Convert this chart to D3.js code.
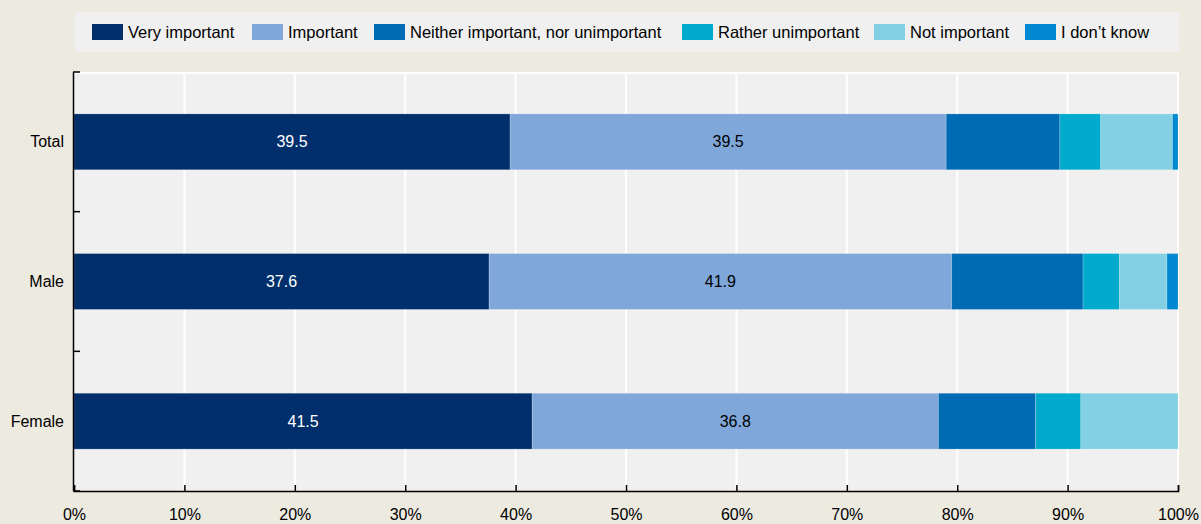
<!DOCTYPE html>
<html lang="en">
<meta charset="UTF-8">
<script src="https://cdn.jsdelivr.net/npm/d3@7"></script>
<style>
body { margin: 0; background: #edeae0; }
svg text { font-family: "Liberation Sans Narrow", "Arial Narrow", "Liberation Sans", sans-serif; fill: #000; }
</style>
<body>
<svg width="1201" height="524"></svg>
<script>
// categories, series, values
const groups = ['Total', 'Male', 'Female'];
const series = ['Very important', 'Important', 'Neither important, nor unimportant',
                'Rather unimportant', 'Not important', 'I don\u2019t know'];
const colors = ['#002f6c', '#7fa7d9', '#006bb5', '#00aacc', '#83d0e4', '#0088d1'];
const veryImportant = [39.5, 37.6, 41.5];
const important     = [39.5, 41.9, 36.8];
const neither       = [10.3, 11.9, 8.8];
const rather        = [3.7, 3.3, 4.1];
const notImportant  = [6.5, 4.3, 8.8];
const dontKnow      = [0.5, 1.0, 0];
const xTicks = [0, 10, 20, 30, 40, 50, 60, 70, 80, 90, 100];

const seriesValues = [veryImportant, important, neither, rather, notImportant, dontKnow];
const rows = groups.map((g, i) => {
  const r = {group: g};
  series.forEach((s, j) => r[s] = seriesValues[j][i]);
  return r;
});

const svg = d3.select('svg');
const margin = {left: 74, right: 23, top: 72, bottom: 33};
const W = 1201, H = 524;

const x = d3.scaleLinear().domain([0, 100]).range([margin.left, W - margin.right]);
const y = d3.scaleBand().domain(groups).range([margin.top, H - margin.bottom]).paddingInner(0.6).paddingOuter(0.3);

// plot background
svg.append('rect')
    .attr('x', margin.left).attr('y', margin.top)
    .attr('width', x(100) - x(0)).attr('height', H - margin.bottom - margin.top)
    .attr('fill', '#f0f0f0');

// gridlines
svg.append('g').selectAll('line').data(xTicks.filter(d => d > 0))
  .join('line')
    .attr('x1', d => x(d)).attr('x2', d => x(d))
    .attr('y1', margin.top).attr('y2', H - margin.bottom)
    .attr('stroke', '#fff').attr('stroke-width', 2);
svg.append('line')
    .attr('x1', margin.left).attr('x2', x(100))
    .attr('y1', margin.top + 1).attr('y2', margin.top + 1)
    .attr('stroke', '#fff').attr('stroke-width', 2);

// bars
const stacked = d3.stack().keys(series)(rows);
svg.append('g').selectAll('g').data(stacked)
  .join('g')
    .attr('fill', (d, i) => colors[i])
  .selectAll('rect').data(d => d)
  .join('rect')
    .attr('x', d => x(d[0]))
    .attr('width', d => x(d[1]) - x(d[0]))
    .attr('y', d => y(d.data.group))
    .attr('height', y.bandwidth())
    .attr('stroke', 'rgba(255,255,255,0.25)')
    .attr('stroke-width', 0.8);

// value labels for first two series
stacked.slice(0, 2).forEach((layer, i) => {
  svg.append('g').selectAll('text').data(layer)
    .join('text')
      .attr('x', d => (x(d[0]) + x(d[1])) / 2)
      .attr('y', d => y(d.data.group) + y.bandwidth() / 2)
      .attr('dy', '0.35em')
      .attr('text-anchor', 'middle')
      .style('font-size', '16px')
      .style('fill', i === 0 ? '#fff' : '#000')
      .text(d => (d[1] - d[0]).toFixed(1));
});

// y axis
const bandEdges = d3.range(groups.length + 1).map(i => margin.top + i * (H - margin.bottom - margin.top) / groups.length);
svg.append('line')
    .attr('x1', margin.left - 0.5).attr('x2', margin.left - 0.5)
    .attr('y1', margin.top).attr('y2', H - margin.bottom)
    .attr('stroke', '#000').attr('stroke-width', 1.5);
svg.append('g').selectAll('line').data(bandEdges)
  .join('line')
    .attr('x1', margin.left - 1).attr('x2', margin.left + 6)
    .attr('y1', d => d).attr('y2', d => d)
    .attr('stroke', '#000').attr('stroke-width', 1.5);
svg.append('g').selectAll('text').data(groups)
  .join('text')
    .attr('x', margin.left - 10)
    .attr('y', d => y(d) + y.bandwidth() / 2)
    .attr('dy', '0.35em')
    .attr('text-anchor', 'end')
    .style('font-size', '16px')
    .text(d => d);

// x axis
svg.append('g')
    .attr('transform', `translate(0,${H - margin.bottom})`)
    .call(d3.axisBottom(x).tickValues(xTicks).tickSize(-6).tickPadding(18).tickFormat(d => d + '%'))
    .call(g => g.select('.domain').attr('stroke', '#000').attr('stroke-width', 1.5))
    .call(g => g.selectAll('.tick line').attr('stroke', '#000').attr('stroke-width', 1.5))
    .call(g => g.selectAll('.tick text').style('font-size', '16px').attr('fill', '#000'));

// legend
const legend = svg.append('g');
legend.append('rect')
    .attr('x', 75).attr('y', 12).attr('width', 1104).attr('height', 40)
    .attr('fill', '#f0f0f0');
const legendX = [92, 252, 374, 682, 874, 1025];
const items = legend.selectAll('g').data(series)
  .join('g')
    .attr('transform', (d, i) => `translate(${legendX[i]},24)`);
items.append('rect')
    .attr('width', 31).attr('height', 16)
    .attr('fill', (d, i) => colors[i]);
items.append('text')
    .attr('x', 36).attr('y', 8).attr('dy', '0.35em')
    .style('font-size', '16.5px')
    .text(d => d);
</script>
</body>
</html>
